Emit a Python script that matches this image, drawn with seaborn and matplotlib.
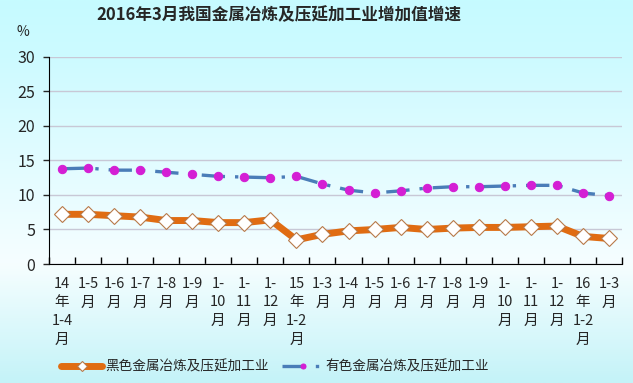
import numpy as np
import pandas as pd
import matplotlib
matplotlib.use("Agg")
import matplotlib.pyplot as plt
import seaborn as sns
from matplotlib.colors import LinearSegmentedColormap

# categories (period labels, wrapped like the original)
periods = [
    "14\n年\n1-4\n月", "1-5\n月", "1-6\n月", "1-7\n月", "1-8\n月", "1-9\n月",
    "1-\n10\n月", "1-\n11\n月", "1-\n12\n月", "15\n年\n1-2\n月", "1-3\n月",
    "1-4\n月", "1-5\n月", "1-6\n月", "1-7\n月", "1-8\n月", "1-9\n月",
    "1-\n10\n月", "1-\n11\n月", "1-\n12\n月", "16\n年\n1-2\n月", "1-3\n月",
]

# growth rates, %
ferrous = [7.2, 7.2, 7.0, 6.8, 6.3, 6.3, 6.0, 6.0, 6.4, 3.5, 4.3,
           4.8, 5.0, 5.3, 5.0, 5.2, 5.3, 5.3, 5.4, 5.5, 4.0, 3.7]
nonferrous = [13.8, 13.9, 13.6, 13.6, 13.3, 13.0, 12.7, 12.6, 12.5, 12.7, 11.6,
              10.7, 10.3, 10.6, 11.0, 11.2, 11.2, 11.3, 11.4, 11.4, 10.3, 9.9]

label_ferrous = "黑色金属冶炼及压延加工业"
label_nonferrous = "有色金属冶炼及压延加工业"
title = "2016年3月我国金属冶炼及压延加工业增加值增速"

df = pd.DataFrame({
    "pos": np.arange(len(periods)),
    "ferrous": ferrous,
    "nonferrous": nonferrous,
})

sns.set_style("ticks")
plt.rcParams["font.family"] = ["Noto Sans CJK SC", "DejaVu Sans"]

fig = plt.figure(figsize=(6.33, 3.83), dpi=100)

# background gradient for the whole figure
bg = fig.add_axes([0, 0, 1, 1], zorder=-10)
cmap = LinearSegmentedColormap.from_list(
    "bg", [(0.0, "#c6fbff"), (0.15, "#cdfaff"), (0.69, "#f6feff"), (1.0, "#c4f3f8")])
grad = np.linspace(0, 1, 256).reshape(-1, 1)
bg.imshow(grad, aspect="auto", cmap=cmap, extent=[0, 1, 0, 1])
bg.axis("off")

ax = fig.add_axes([0.0774, 0.3107, 0.9052, 0.5405])
ax.set_facecolor("none")

sns.lineplot(data=df, x="pos", y="nonferrous", ax=ax, color="#4a7db8",
             linewidth=2.4, linestyle=(0, (7, 3, 1, 3)), marker="o",
             markersize=6, markerfacecolor="#d41fd4", markeredgecolor="#d41fd4",
             label=label_nonferrous, zorder=3)
sns.lineplot(data=df, x="pos", y="ferrous", ax=ax, color="#e06c12",
             linewidth=5, marker="D", markersize=8, markerfacecolor="white",
             markeredgecolor="#b87a4a", markeredgewidth=0.8,
             label=label_ferrous, zorder=4)

ax.set_xlim(-0.5, len(periods) - 0.5)
ax.set_ylim(0, 30)
ax.set_yticks(np.arange(0, 31, 5))
ax.set_xticks(df["pos"])
ax.set_xticklabels(periods, fontsize=10.5, linespacing=1.45, va="top")
ax.set_xticks(np.arange(-0.5, len(periods), 1), minor=True)
ax.tick_params(axis="x", which="major", length=0, pad=9)
ax.tick_params(axis="x", which="minor", direction="in", length=5, width=1, color="black")
ax.tick_params(axis="y", length=4, width=1, labelsize=11.5, pad=6)
ax.set_xlabel("")
ax.set_ylabel("")
ax.yaxis.grid(True, color="#c8c8d6", linewidth=1)
ax.set_axisbelow(True)
for s in ["top", "right"]:
    ax.spines[s].set_visible(False)
ax.spines["left"].set_color("black")
ax.spines["bottom"].set_color("black")

ax.text(-0.045, 1.12, "%", transform=ax.transAxes, fontsize=10, ha="center", va="center")
fig.text(0.44, 0.96, title, fontsize=12, fontweight="bold", ha="center", va="center")

handles, labels = ax.get_legend_handles_labels()
ax.get_legend().remove()
order = [labels.index(label_ferrous), labels.index(label_nonferrous)]
fig.legend([handles[i] for i in order], [labels[i] for i in order],
           loc="center", bbox_to_anchor=(0.435, 0.042), ncol=2, frameon=False,
           fontsize=9.8, handlelength=3.0, handletextpad=0.2, columnspacing=1.0,
           markerscale=0.6, borderaxespad=0, borderpad=0)

fig.savefig("out.png", dpi=100)
